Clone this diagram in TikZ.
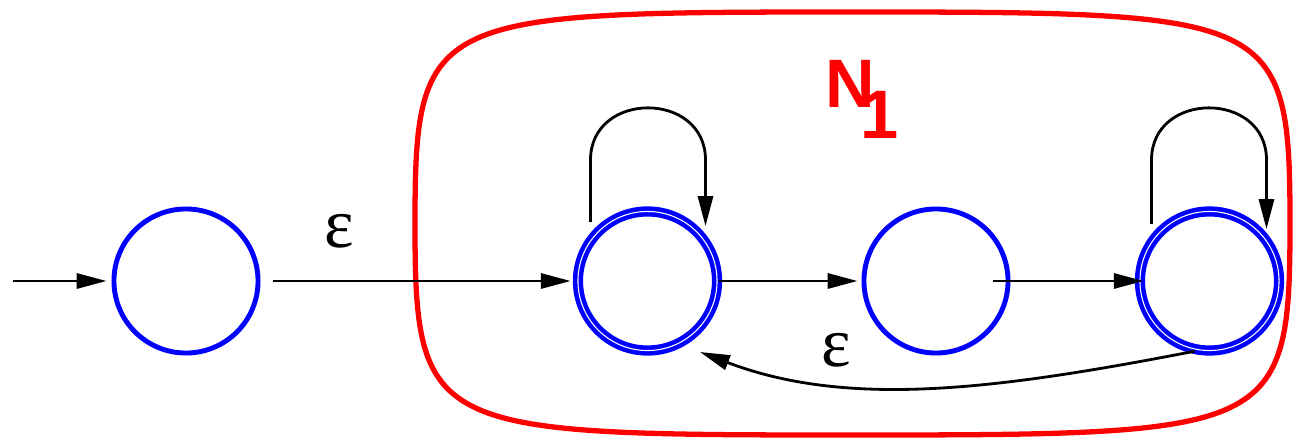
\documentclass[tikz,border=0pt]{standalone}
\usepackage{fontspec}
\usepackage{tikz}
\usetikzlibrary{positioning, arrows.meta, calc}
\newfontfamily\epsfont{Liberation Serif}
\newfontfamily\boxfont{Liberation Sans}

\begin{document}
\begin{tikzpicture}[
    x=0.01cm, y=0.01cm,
    state/.style={circle, draw=blue, line width=1.4pt, minimum size=1.44cm, inner sep=0pt},
    accepting/.style={state, double=white, double distance=0.3pt, line width=1.3pt, minimum size=1.39cm},
    arr/.style={-{Triangle[length=8.5pt, width=4.3pt]}, line width=0.8pt},
    eps/.style={inner sep=0pt, font=\epsfont\fontsize{20}{20}\selectfont},
    boxname/.style={text=red, inner sep=0pt, font=\boxfont\bfseries\fontsize{19.5}{20}\selectfont},
    nfa/.style={draw=red, line width=1.5pt}
  ]
  \useasboundingbox (0,0) rectangle (1293,439);

  % the N_1 box
  \draw[nfa] (415,215.5) .. controls (415,425) and (430,427) .. (852.5,427)
    .. controls (1275,427) and (1290,425) .. (1290,215.5)
    .. controls (1290,6) and (1275,4) .. (852.5,4)
    .. controls (430,4) and (415,6) .. (415,215.5) -- cycle;
  \node[boxname] (name) at (850,355.5) {N};
  \node[boxname] (sub) at (880,324) {1};

  \node[state] (s1) at (186,158) {};
  \node[accepting] (s2) at (647.5,158) {};
  \node[state] (s3) at (936,158) {};
  \node[accepting] (s4) at (1209.5,158) {};

  \coordinate (start) at (13,158);
  \coordinate (back) at ($(s2)+(52.5,-71)$);

  \draw[arr, shorten >=0.05cm] (start) -- (s1);
  \draw[arr, shorten <=0.12cm, shorten >=0.05cm] (s1) -- node[eps, above=0.31cm, pos=0.25] (e1) {ε} (s2);
  \draw[arr, shorten >=0.04cm] (s2) -- (s3);
  \draw[arr, shorten <=-0.17cm, shorten >=-0.06cm] (s3) -- (s4);

  % self loops
  \draw[arr] ($(s2)+(-57,59)$) -- ++(0,62) to[out=90, in=90, looseness=1.55] ($(s2)+(58,121)$) -- ($(s2)+(58,55)$);
  \draw[arr] ($(s4)+(-58,57)$) -- ++(0,64) to[out=90, in=90, looseness=1.55] ($(s4)+(57,121)$) -- ($(s4)+(57,52)$);

  % back to the first accepting state
  \draw[arr] (s4.258) .. controls ($(s4)+(-210,-108)$) and ($(s2)+(202,-128)$) .. (back);
  \node[eps] (e2) at ($(s3)+(-100,-69)$) {ε};
\end{tikzpicture}
\end{document}
